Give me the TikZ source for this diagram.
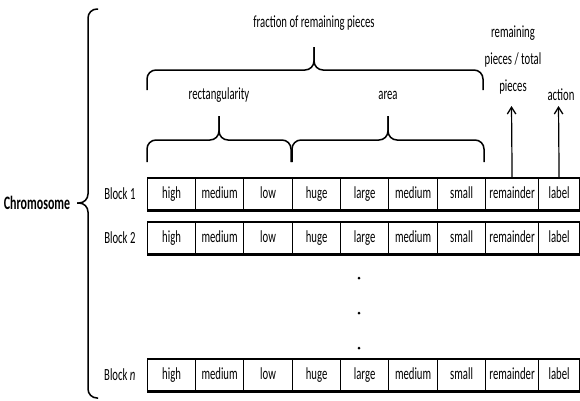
\documentclass[tikz,border=0pt]{standalone}
\usepackage{fontspec}
\newfontfamily\cfont{Carlito}[FakeStretch=0.63]
\usetikzlibrary{arrows.meta}

\begin{document}
\begin{tikzpicture}[
  x=1pt,y=-1pt,
  every node/.style={font=\cfont\fontsize{17}{19}\selectfont},
  cell/.style={draw,line width=1.2pt,minimum height=31pt,inner sep=0pt,
               text height=12pt,text depth=3.5pt,anchor=north west},
  rowedge/.style={line width=2.6pt},
  brace/.style={line width=1.5pt,rounded corners=9pt},
  pointer/.style={-{Straight Barb[length=2.4mm,width=3mm,line width=1.3pt]},line width=1.2pt},
  dot/.style={circle,fill,inner sep=0pt,minimum size=3pt}
]
\useasboundingbox (0,0) rectangle (580,400);

% chromosome and its brace
\node[font=\cfont\bfseries\fontsize{19}{21}\selectfont] (chrom) at (37,203) {Chromosome};
\draw[brace] (98,9) -- (88,9) -- (88,203) -- (77,203);
\draw[brace] (98,398) -- (88,398) -- (88,203) -- (77,203);

% blocks
\foreach \r/\yt/\lab in {1/178/Block 1, 2/222/Block 2, n/359/Block \textit{n}} {
  \node[anchor=east] (lab\r) at (139,\yt+16) {\lab};
  \foreach \i/\xa/\xb/\txt in {1/147/195/high, 2/195/243/medium, 3/243/292/low,
      4/292/340/huge, 5/340/388/large, 6/388/437/medium, 7/437/485/small,
      8/485/538/remainder, 9/538/579/label} {
    \pgfmathsetmacro\w{\xb-\xa}
    \node[cell,minimum width=\w pt] (c\r-\i) at (\xa,\yt) {\txt};
  }
  \draw[rowedge] (c\r-1.north west) -- (c\r-9.north east);
  \draw[rowedge] (c\r-1.south west) -- (c\r-9.south east);
}

% dots between block 2 and block n
\foreach \k/\yy in {1/278,2/313,3/348}
  \node[dot] (dot\k) at (359,\yy) {};

% braces over the genes
\node (fracl) at (314,23) {fraction of remaining pieces};
\draw[brace] (147,90) -- (147,70) -- (314,70) -- (314,47);
\draw[brace] (483,90) -- (483,70) -- (314,70) -- (314,47);

\node (rectl) at (219,95) {rectangularity};
\draw[brace] (147,162) -- (147,140) -- (219,140) -- (219,116);
\draw[brace] (291,162) -- (291,140) -- (219,140) -- (219,116);

\node (areal) at (388,95) {area};
\draw[brace] (292,162) -- (292,140) -- (388,140) -- (388,116);
\draw[brace] (484,162) -- (484,140) -- (388,140) -- (388,116);

% remainder and action
\node[align=center,font=\cfont\fontsize{17}{27}\selectfont] (reml) at (513,60)
  {remaining\\pieces / total\\pieces};
\node (actl) at (561,95) {action};
\coordinate (remtip) at (511.5,106);
\coordinate (acttip) at (558.5,106);
\draw[pointer] (c1-8.north) -- (remtip);
\draw[pointer] (c1-9.north) -- (acttip);
\end{tikzpicture}
\end{document}
